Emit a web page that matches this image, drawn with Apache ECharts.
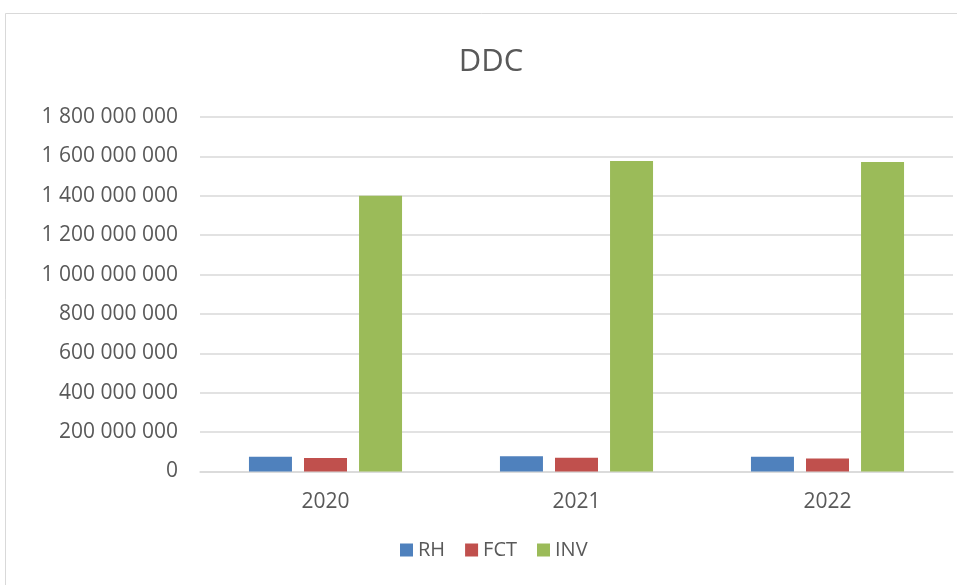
<!DOCTYPE html>
<html><head><meta charset="utf-8">
<script src="https://cdn.jsdelivr.net/npm/echarts@6/dist/echarts.min.js"></script>
<style>html,body{margin:0;padding:0;background:#fff}#c{width:957px;height:585px}</style>
</head><body><div id="c"></div>
<script>
const categories = ['2020', '2021', '2022'];
const rh = [75000000, 78000000, 75000000];
const fct = [68000000, 70000000, 66000000];
const inv = [1400000000, 1577000000, 1572000000];
const seriesNames = ['RH', 'FCT', 'INV'];

function fmt(v){ return String(v).replace(/\B(?=(\d{3})+(?!\d))/g, ' '); }
const font = '"Open Sans", "Liberation Sans", sans-serif';
const chart = echarts.init(document.getElementById('c'));
chart.setOption({
  animation: false,
  backgroundColor: '#fff',
  graphic: [{type:'rect', shape:{x:5.5,y:13.5,width:1000,height:1000}, style:{fill:'none', stroke:'#d9d9d9', lineWidth:1}}],
  title: {text:'DDC', left: 486, top: 42, textAlign:'center', textStyle:{fontFamily:font, fontSize:31, fontWeight:'normal', color:'#595959'}},
  legend: {bottom: 20, left: 395, itemWidth: 13, itemHeight: 13, itemGap: 20, icon:'rect',
    textStyle:{fontFamily:font, fontSize:20, color:'#595959'}, data: seriesNames},
  grid: {left: 200, right: 4, top: 117, bottom: 113.5, containLabel:false},
  xAxis: {type:'category', data: categories,
    axisLine:{lineStyle:{color:'#d9d9d9', width:1.5}}, axisTick:{show:false},
    axisLabel:{fontFamily:font, fontSize:21, color:'#595959', margin:20}},
  yAxis: {type:'value', min:0, max:1800000000, interval:200000000,
    axisLine:{show:false}, axisTick:{show:false},
    splitLine:{lineStyle:{color:'#d9d9d9', width:1.5}},
    axisLabel:{fontFamily:font, fontSize:21, color:'#595959', margin:22, formatter: fmt}},
  series: [
    {name:'RH', type:'bar', data: rh, barWidth: 43, barGap:'28%', itemStyle:{color:'#4f81bd'}},
    {name:'FCT', type:'bar', data: fct, barWidth: 43, barGap:'28%', itemStyle:{color:'#c0504d'}},
    {name:'INV', type:'bar', data: inv, barWidth: 43, barGap:'28%', itemStyle:{color:'#9bbb59'}}
  ]
});
</script></body></html>
